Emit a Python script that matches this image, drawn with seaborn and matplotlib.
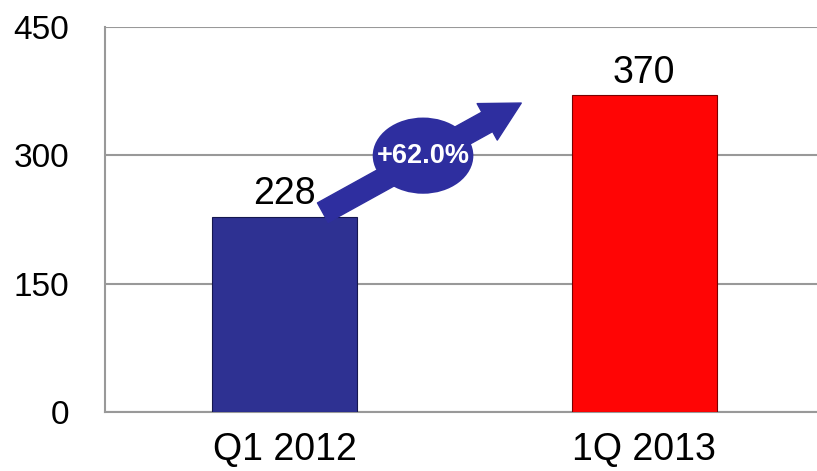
import matplotlib
matplotlib.use("Agg")
import matplotlib.pyplot as plt
import seaborn as sns
import pandas as pd
from matplotlib.patches import Ellipse

categories = ["Q1 2012", "1Q 2013"]
values = [228, 370]
colors = ["#2E3192", "#FF0505"]
growth_label = "+62.0%"
yticks = [0, 150, 300, 450]

sns.set_theme(style="white")
plt.rcParams['font.family'] = ['Liberation Sans', 'DejaVu Sans']
plt.rcParams['text.color'] = 'black'
plt.rcParams['xtick.color'] = 'black'
plt.rcParams['ytick.color'] = 'black'

df = pd.DataFrame({"cat": categories, "val": values})

fig = plt.figure(figsize=(8.17, 4.71), dpi=100)
ax = fig.add_axes([0.1285, 0.125, 0.88, 0.818])

sns.barplot(data=df, x="cat", y="val", hue="cat", palette=colors, width=0.404,
            legend=False, ax=ax, linewidth=0.0, saturation=1)
edge_cols = ["#15174f", "#7a0000"]
for p, ec in zip(ax.patches, edge_cols):
    p.set_edgecolor(ec)
    p.set_linewidth(0.8)
    p.set_zorder(3)

ax.set_xlim(-0.5, 1.5)
ax.set_ylim(0, 450)
ax.set_yticks(yticks)
ax.set_yticklabels([str(t) for t in yticks], fontsize=24)
ax.tick_params(axis='x', labelsize=27, length=0, pad=14, labelcolor="black")
ax.tick_params(axis='y', length=0, pad=26, labelcolor="black")
ax.set_xlabel("")
ax.set_ylabel("")
ax.yaxis.grid(True, color="#999999", linewidth=1.5, zorder=0)
ax.set_axisbelow(True)
for s in ["top", "right"]:
    ax.spines[s].set_visible(False)
for s in ["left", "bottom"]:
    ax.spines[s].set_color("#999999")
    ax.spines[s].set_linewidth(1.5)

for i, v in enumerate(values):
    ax.annotate(str(v), (i, v), xytext=(0, 9), textcoords="offset points",
                ha="center", va="baseline", fontsize=27, color="black")

# growth arrow
x0, y0 = 0 + 0.106, values[0] + 5
x1, y1 = 1 - 0.342, values[1] - 9
arrow_col = "#2E2E9F"
ax.annotate("", xy=(x1, y1), xytext=(x0, y0),
            arrowprops=dict(arrowstyle="simple,head_length=1.4,head_width=1.5,tail_width=0.8",
                            color=arrow_col, mutation_scale=20, shrinkA=0, shrinkB=0),
            zorder=5)
ex, ey = x0 + (x1 - x0) * 0.505, y0 + (y1 - y0) * 0.52
ell = Ellipse((ex, ey), width=0.28, height=89, facecolor=arrow_col, edgecolor="none", zorder=6)
ax.add_patch(ell)
ax.text(ex, ey, growth_label, color="white", fontsize=19.5, fontweight="bold",
        ha="center", va="center", zorder=7)

fig.savefig("out.png", dpi=100)
